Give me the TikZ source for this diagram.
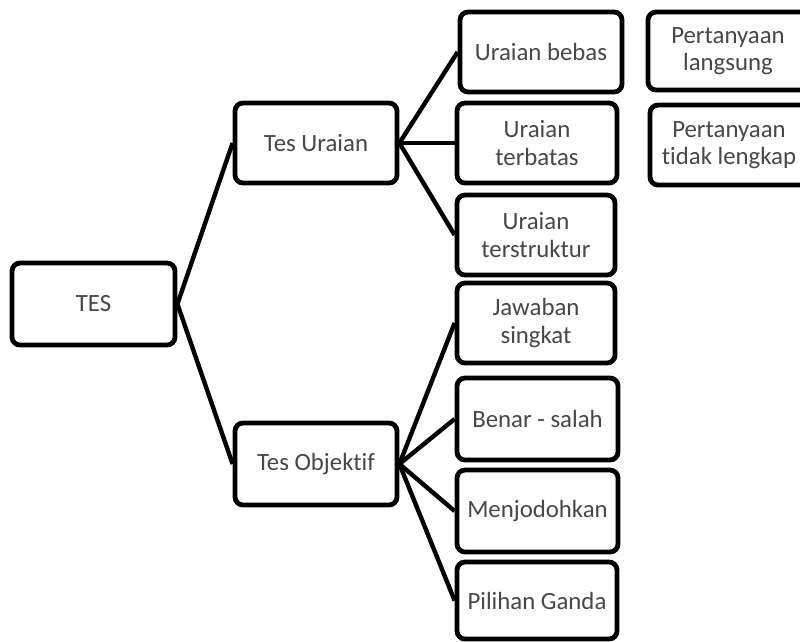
\documentclass[tikz,border=0pt]{standalone}
\usepackage{fontspec}
\setmainfont{Carlito}[Ligatures={NoCommon}]
\begin{document}
\begin{tikzpicture}[x=1pt,y=-1pt,
  box/.style={draw=black, line width=4.8pt, rounded corners=8pt, fill=white,
    inner sep=0pt, align=center, text=black!72,
    font=\fontsize{24.8}{27.5}\selectfont},
  link/.style={draw=black, line width=4.4pt}]
\useasboundingbox (0,0) rectangle (800,641);
\clip (0,0) rectangle (800,641);
\fill[white] (0,0) rectangle (800,641);
\node[box, minimum width=163pt, minimum height=82pt] (tes) at (93.5,304) {TES};
\node[box, minimum width=162pt, minimum height=80pt] (uraian) at (316,143) {Tes Uraian};
\node[box, minimum width=162pt, minimum height=82pt] (objektif) at (316,464) {Tes Objektif};
\node[box, minimum width=162pt, minimum height=80pt] (bebas) at (541,52) {Uraian bebas};
\node[box, minimum width=160pt, minimum height=80pt] (terbatas) at (537,143) {Uraian\\terbatas};
\node[box, minimum width=158pt, minimum height=80pt] (terstruktur) at (536,235) {Uraian\\terstruktur};
\node[box, minimum width=158pt, minimum height=80pt] (jawaban) at (536,323) {Jawaban\\singkat};
\node[box, minimum width=161pt, minimum height=82pt] (benar) at (537.5,419) {Benar - salah};
\node[box, minimum width=161pt, minimum height=82pt] (menjodoh) at (537.5,511) {Menjodohkan};
\node[box, minimum width=160pt, minimum height=77pt] (pilihan) at (537,600.5) {Pilihan Ganda};
\node[box, minimum width=160pt, minimum height=78pt] (langsung) at (728,51) {Pertanyaan\\langsung};
\node[box, minimum width=158pt, minimum height=80pt] (tidak) at (729,145) {Pertanyaan\\tidak lengkap};
\draw[link] (tes.east) -- (uraian.west);
\draw[link] (tes.east) -- (objektif.west);
\draw[link] (uraian.east) -- (bebas.west);
\draw[link] (uraian.east) -- (terbatas.west);
\draw[link] (uraian.east) -- (terstruktur.west);
\draw[link] (objektif.east) -- (jawaban.west);
\draw[link] (objektif.east) -- (benar.west);
\draw[link] (objektif.east) -- (menjodoh.west);
\draw[link] (objektif.east) -- (pilihan.west);
\end{tikzpicture}
\end{document}
